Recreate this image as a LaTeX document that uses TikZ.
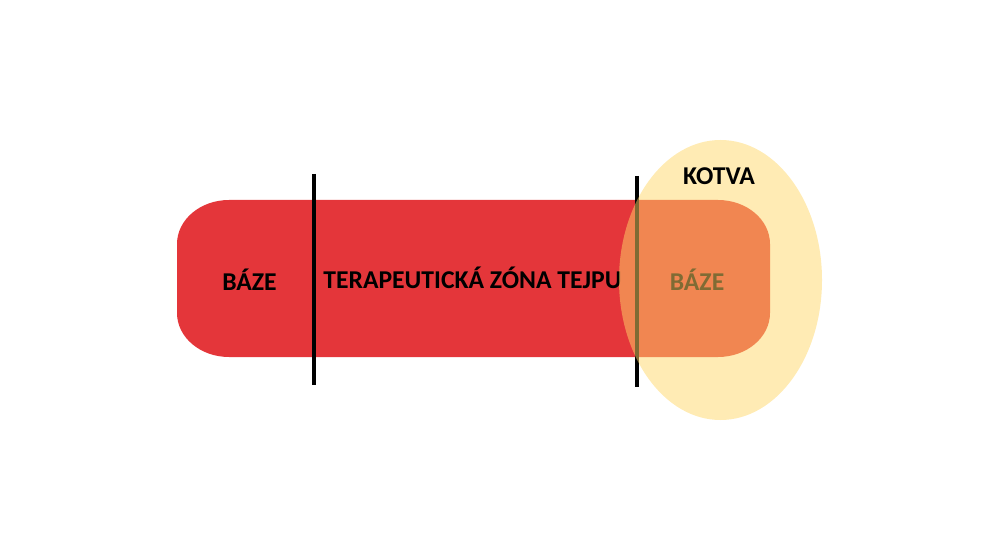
\documentclass[tikz,border=0pt]{standalone}
\usepackage{fontspec}
\setmainfont{Carlito}
\definecolor{tapered}{RGB}{228,54,58}
\definecolor{anchorgold}{RGB}{255,215,105}
\tikzset{
  lbl/.style={font=\bfseries\fontsize{14.6}{16}\selectfont, text=black, inner sep=0pt},
  divider/.style={line width=2.2pt, black},
}
\begin{document}
\begin{tikzpicture}[x=0.02cm,y=-0.02cm]
\useasboundingbox (0,0) rectangle (1000,560);
% tape
\fill[tapered] (229,200) -- (718,200) arc[start angle=-90,end angle=0,x radius=52,y radius=44]
  -- (770,313) arc[start angle=0,end angle=90,x radius=52,y radius=44]
  -- (229,357) arc[start angle=90,end angle=180,x radius=52,y radius=44]
  -- (177,244) arc[start angle=180,end angle=270,x radius=52,y radius=44] -- cycle;
% dividers
\coordinate (d1t) at (314,174); \coordinate (d1b) at (314,385);
\coordinate (d2t) at (637,176); \coordinate (d2b) at (637,387);
\draw[divider] (d1t) -- (d1b);
\draw[divider] (d2t) -- (d2b);
% labels
\node[lbl] (base1) at (249.5,280) {BÁZE};
\node[lbl, anchor=west] (zone) at (323,278) {TERAPEUTICKÁ ZÓNA TEJPU};
\node[lbl] (base2) at (697,280) {BÁZE};
% anchor ellipse
\fill[anchorgold, opacity=0.5] (720.5,280) ellipse[x radius=101.5, y radius=140];
\node[lbl] (kotva) at (719,176) {KOTVA};
\end{tikzpicture}
\end{document}
